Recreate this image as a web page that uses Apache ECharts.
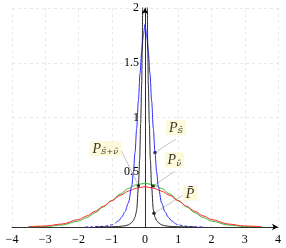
<!DOCTYPE html>
<html><head><meta charset="utf-8">
<script src="https://cdn.jsdelivr.net/npm/echarts@6/dist/echarts.min.js"></script>
<style>html,body{margin:0;padding:0;background:#fff}#c{width:286px;height:248px}</style>
</head><body><div id="c"></div><script>
// ---- data ----
const xTicks = [-4, -3, -2, -1, 0, 1, 2, 3, 4];
const yTicks = [0.5, 1, 1.5, 2];

const gaussX = [-3.5,-3,-2.5,-2,-1.75,-1.5,-1.25,-1,-0.75,-0.5,-0.25,0,0.25,0.5,0.75,1,1.25,1.5,1.75,2,2.5,3,3.5];
const greenY = [0.001,0.004,0.018,0.054,0.086,0.13,0.183,0.242,0.301,0.352,0.387,0.399,0.387,0.352,0.301,0.242,0.183,0.13,0.086,0.054,0.018,0.004,0.001];
const redY   = [0.003,0.009,0.027,0.068,0.101,0.143,0.19,0.24,0.288,0.328,0.355,0.368,0.355,0.328,0.288,0.24,0.19,0.143,0.101,0.068,0.027,0.009,0.003];

const blueX = [-1.8,-1.6,-1.4,-1.2,-1.0,-0.9,-0.8,-0.7,-0.6,-0.5,-0.4,-0.35,-0.3,-0.25,-0.2,-0.15,-0.1,-0.05,0,0.05,0.1,0.15,0.2,0.25,0.3,0.35,0.4,0.5,0.6,0.7,0.8,0.9,1.0,1.2,1.4,1.6,1.8];
const blueY = [0,0.001,0.003,0.008,0.02,0.033,0.055,0.09,0.14,0.22,0.37,0.5,0.68,0.9,1.15,1.4,1.6,1.75,1.85,1.75,1.6,1.4,1.15,0.9,0.68,0.5,0.37,0.22,0.14,0.09,0.055,0.033,0.02,0.008,0.003,0.001,0];

const blackX = [-1.5,-1,-0.8,-0.6,-0.5,-0.4,-0.35,-0.3,-0.27,-0.25,-0.2,-0.16,-0.13,-0.1,-0.08,-0.07,-0.04,0,0.04,0.07,0.08,0.1,0.13,0.16,0.2,0.25,0.27,0.3,0.35,0.4,0.5,0.6,0.8,1,1.5];
const blackY = [0,0.002,0.004,0.011,0.02,0.04,0.06,0.09,0.125,0.16,0.36,0.62,0.95,1.3,1.7,2.0,2.6,4,2.6,2.0,1.7,1.3,0.95,0.62,0.36,0.16,0.125,0.09,0.06,0.04,0.02,0.011,0.004,0.002,0];

const annoX = [0.3, 0.25, 0.27, -0.2];
const annoY = [0.68, 0.375, 0.125, 0.38];
const annoText = ['{p|P}{s|Ŝ}', '{p|P}{s|ν̂}', '{p|P̄}', '{p|P}{s|Ŝ+ν̂}'];

// ---- build ----
const pairs = (xs, ys) => xs.map((x, i) => [x, ys[i]]);
const blueAll = pairs(blueX, blueY);
const blueMid = blueAll.filter(d => Math.abs(d[0]) <= 0.9 + 1e-9);
const blueLeft = blueAll.filter(d => d[0] <= -0.9 + 1e-9);
const blueRight = blueAll.filter(d => d[0] >= 0.9 - 1e-9);

const fontT = 'Liberation Serif';
const minus = v => (v < 0 ? '\u2212' + Math.abs(v) : String(v));
const labelOffsets = [[21, -25], [21, -26], [36, -20], [-33, -37]];

const W = 286, GL = 12, GR = 8;
const gridW = W - GL - GR;

const chart = echarts.init(document.getElementById('c'), null, {renderer: 'canvas'});
const lineBase = {type: 'line', showSymbol: false, smooth: 0.3, smoothMonotone: 'x', silent: true, animation: false, clip: true};

chart.setOption({
  animation: false,
  grid: {left: GL, right: GR, top: 8, bottom: 21, containLabel: false, outerBoundsMode: 'none'},
  xAxis: {
    type: 'value', min: -4, max: 4, interval: 1,
    axisLine: {onZero: true, lineStyle: {color: '#000', width: 0.8}, symbol: ['none', 'arrow'], symbolSize: [5, 6]},
    axisTick: {show: false},
    axisLabel: {margin: 7, color: '#000', fontFamily: fontT, fontSize: 12,
      formatter: v => (xTicks.includes(v) ? minus(v) : '')},
    splitLine: {show: true, lineStyle: {color: '#e4e4e4', type: [3, 3], width: 0.8}}
  },
  yAxis: {
    type: 'value', min: 0, max: 2, interval: 0.5,
    position: 'left', offset: -gridW / 2,
    axisLine: {onZero: false, lineStyle: {color: '#000', width: 0.8}, symbol: ['none', 'arrow'], symbolSize: [5, 6]},
    axisTick: {show: false},
    axisLabel: {margin: 6, color: '#000', fontFamily: fontT, fontSize: 12,
      formatter: v => (yTicks.includes(v) ? String(v) : '')},
    splitLine: {show: true, lineStyle: {color: '#e4e4e4', type: [3, 3], width: 0.8}}
  },
  series: [
    Object.assign({}, lineBase, {data: pairs(gaussX, greenY), lineStyle: {color: '#3dbb3d', width: 1}}),
    Object.assign({}, lineBase, {data: pairs(gaussX, redY), lineStyle: {color: '#ff2a2a', width: 1}}),
    Object.assign({}, lineBase, {data: blueMid, lineStyle: {color: '#2a2aff', width: 1}}),
    Object.assign({}, lineBase, {data: blueLeft, lineStyle: {color: '#2a2aff', width: 1, type: [3, 2]}}),
    Object.assign({}, lineBase, {data: blueRight, lineStyle: {color: '#2a2aff', width: 1, type: [3, 2]}}),
    Object.assign({}, lineBase, {data: pairs(blackX, blackY), lineStyle: {color: '#111', width: 0.9}}),
    {
      type: 'scatter', silent: true, animation: false,
      symbolSize: 3.5, itemStyle: {color: '#000'},
      data: pairs(annoX, annoY),
      label: {
        show: true, position: 'inside',
        formatter: p => annoText[p.dataIndex],
        backgroundColor: '#fcf8cf', padding: [1, 3, 0, 3],
        rich: {
          p: {fontFamily: fontT, fontStyle: 'italic', fontSize: 14, color: '#000', lineHeight: 14, verticalAlign: 'top', padding: [0, 0, 4, 0]},
          s: {fontFamily: 'DejaVu Serif', fontStyle: 'italic', fontSize: 8, color: '#000', lineHeight: 9, verticalAlign: 'bottom'}
        }
      },
      labelLayout: p => ({dx: labelOffsets[p.dataIndex][0], dy: labelOffsets[p.dataIndex][1]}),
      labelLine: {show: true, lineStyle: {color: '#9a9a9a', width: 0.6}}
    }
  ]
});
</script></body></html>
